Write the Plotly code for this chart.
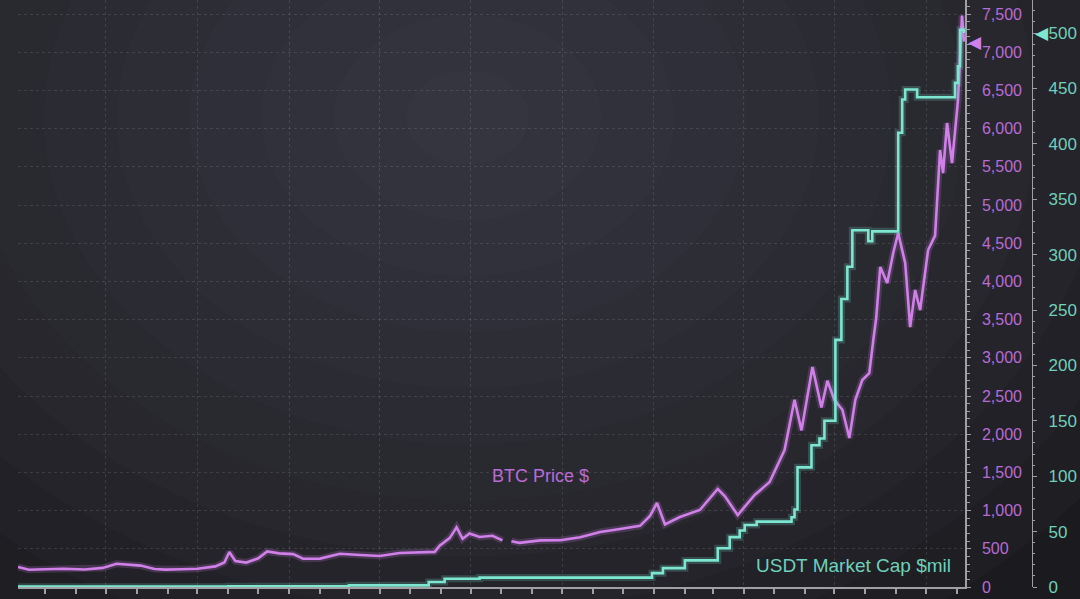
import plotly.graph_objects as go

# ---------------- data ----------------
btc_dates = [
    "2015-04-04", "2015-04-15", "2015-05-01", "2015-05-20", "2015-06-10", "2015-06-28",
    "2015-07-12", "2015-07-25", "2015-08-05", "2015-08-19", "2015-08-30", "2015-09-15",
    "2015-10-01", "2015-10-19", "2015-10-28", "2015-11-02", "2015-11-08", "2015-11-19",
    "2015-12-01", "2015-12-10", "2015-12-22", "2016-01-05", "2016-01-15", "2016-02-01",
    "2016-02-21", "2016-03-12", "2016-04-01", "2016-04-21", "2016-05-11", "2016-05-26",
    "2016-05-31", "2016-06-10", "2016-06-17", "2016-06-23", "2016-06-30", "2016-07-10",
    "2016-07-23", "2016-08-02", "2016-08-06", "2016-08-11", "2016-08-19", "2016-09-09",
    "2016-09-29", "2016-10-19", "2016-11-08", "2016-11-28", "2016-12-18", "2016-12-28",
    "2017-01-04", "2017-01-12", "2017-01-27", "2017-02-16", "2017-03-06", "2017-03-13",
    "2017-03-26", "2017-04-12", "2017-04-27", "2017-05-12", "2017-05-22", "2017-05-29",
    "2017-06-09", "2017-06-18", "2017-06-24", "2017-07-01", "2017-07-09", "2017-07-16",
    "2017-07-22", "2017-07-29", "2017-08-05", "2017-08-09", "2017-08-12", "2017-08-16",
    "2017-08-23", "2017-08-29", "2017-09-03", "2017-09-10", "2017-09-15", "2017-09-20",
    "2017-09-25", "2017-10-03", "2017-10-10", "2017-10-15", "2017-10-18", "2017-10-22",
    "2017-10-27", "2017-11-02", "2017-11-06", "2017-11-08",
]
btc_price = [
    262, 225, 232, 238, 230, 250,
    305, 290, 280, 235, 228, 232,
    238, 270, 320, 458, 340, 320,
    375, 465, 440, 430, 370, 372,
    435, 419, 405, 445, 455, 460,
    540, 640, 780, 630, 700, 655,
    670, 610, None, 600, 578, 610,
    612, 650, 720, 760, 800, 930,
    1100, 820, 916, 1008, 1283, 1190,
    942, 1204, 1374, 1793, 2450, 2050,
    2880, 2350, 2700, 2450, 2320, 1950,
    2450, 2710, 2800, 3230, 3530, 4189,
    3980, 4372, 4634, 4241, 3403, 3888,
    3626, 4411, 4600, 5720, 5419, 6074,
    5550, 6375, 7480, 7140,
]

usdt_dates = [
    "2015-04-04", "2015-11-01", "2016-03-01", "2016-05-20", "2016-06-05", "2016-07-10",
    "2016-12-30", "2017-01-10", "2017-02-01", "2017-03-06", "2017-03-18", "2017-03-28",
    "2017-04-02", "2017-04-14", "2017-05-19", "2017-05-22", "2017-05-25", "2017-06-08",
    "2017-06-16", "2017-06-21", "2017-07-02", "2017-07-08", "2017-07-14", "2017-07-19",
    "2017-08-04", "2017-08-08", "2017-09-03", "2017-09-07", "2017-09-10", "2017-09-22",
    "2017-10-30", "2017-11-02", "2017-11-04", "2017-11-08",
]
usdt_mcap = [
    0.3, 0.6, 1.5, 4.5, 7.5, 8.5,
    12.5, 17, 24, 35, 45, 51,
    56, 59, 63, 70, 108, 128,
    134, 150, 223, 260, 289, 322,
    312, 321, 410, 440, 449, 442,
    455, 470, 503, 500,
]

btc_ticks = list(range(0, 7501, 500))
usdt_ticks = list(range(0, 501, 50))

BTC_COLOR = "#d17fe9"
BTC_TEXT = "#b96bd6"
USDT_COLOR = "#7de6d1"
USDT_TEXT = "#6fd0bb"
AXIS_COLOR = "#a0a0a4"
GRID_COLOR = "rgba(255,255,255,0.11)"

fig = go.Figure()

# glow underlays
fig.add_trace(go.Scatter(x=usdt_dates, y=usdt_mcap, yaxis="y2", mode="lines",
                         line=dict(color=USDT_COLOR, width=7, shape="hv"),
                         opacity=0.2, hoverinfo="skip", showlegend=False))
fig.add_trace(go.Scatter(x=btc_dates, y=btc_price, mode="lines",
                         line=dict(color=BTC_COLOR, width=7),
                         opacity=0.2, hoverinfo="skip", showlegend=False,
                         connectgaps=False))
# main lines
fig.add_trace(go.Scatter(x=usdt_dates, y=usdt_mcap, yaxis="y2", mode="lines",
                         name="USDT Market Cap $mil",
                         line=dict(color=USDT_COLOR, width=2.6, shape="hv"),
                         showlegend=False))
fig.add_trace(go.Scatter(x=btc_dates, y=btc_price, mode="lines",
                         name="BTC Price $", connectgaps=False,
                         line=dict(color=BTC_COLOR, width=2.6),
                         showlegend=False))

# radial-ish background glow
shapes = []
n = 11
for i in range(n):
    f = (i + 1) / n
    rx = 0.78 * (1 - f) + 0.06
    ry = 1.05 * (1 - f) + 0.08
    cx, cy = 0.44, 0.80
    shapes.append(dict(type="circle", xref="paper", yref="paper",
                       x0=cx - rx, x1=cx + rx, y0=cy - ry, y1=cy + ry,
                       fillcolor="#5e6476", opacity=0.055, line=dict(width=0),
                       layer="below"))

fig.update_layout(
    width=1080, height=599,
    margin=dict(l=18, r=40, t=0, b=12),
    paper_bgcolor="#1b1b1f",
    plot_bgcolor="rgba(0,0,0,0)",
    font=dict(family="Liberation Sans, Arial, sans-serif"),
    shapes=shapes,
    showlegend=False,
    xaxis=dict(
        type="date",
        domain=[0, 0.9266],
        range=["2015-04-04", "2017-11-09"],
        showticklabels=False,
        dtick="M3", tick0="2015-01-01",
        ticks="outside", ticklen=5, tickcolor=AXIS_COLOR, tickwidth=1.5,
        minor=dict(dtick="M1", ticks="outside", ticklen=5, tickcolor=AXIS_COLOR,
                   tickwidth=1.5, showgrid=False),
        showgrid=True, gridcolor=GRID_COLOR, griddash="dot", gridwidth=1,
        showline=True, linecolor=AXIS_COLOR, linewidth=1.5,
        zeroline=False,
    ),
    yaxis=dict(
        side="right", anchor="x",
        range=[0, 7684],
        tickvals=btc_ticks,
        ticktext=[f"{v:,}" for v in btc_ticks],
        tickfont=dict(color=BTC_TEXT, size=16),
        ticks="outside", ticklen=4, tickcolor=AXIS_COLOR, tickwidth=1,
        minor=dict(dtick=100, ticks="outside", ticklen=3, tickcolor=AXIS_COLOR),
        ticklabelstandoff=8,
        showgrid=True, gridcolor=GRID_COLOR, griddash="dot", gridwidth=1,
        showline=True, linecolor=AXIS_COLOR, linewidth=1.5,
        zeroline=False,
    ),
    yaxis2=dict(
        overlaying="y", side="right", anchor="free", position=0.9922,
        range=[0, 529.8],
        tickvals=usdt_ticks,
        tickfont=dict(color=USDT_TEXT, size=17),
        ticks="outside", ticklen=4, tickcolor=AXIS_COLOR, tickwidth=1,
        minor=dict(dtick=10, ticks="outside", ticklen=2, tickcolor=AXIS_COLOR),
        ticklabelstandoff=8,
        showgrid=False,
        showline=True, linecolor=AXIS_COLOR, linewidth=1.2,
        zeroline=False,
    ),
    annotations=[
        dict(text="BTC Price $", xref="paper", yref="paper",
             x=(490 - 18) / 1022, y=1 - (476 / 587), xanchor="left", yanchor="middle",
             showarrow=False, font=dict(color=BTC_TEXT, size=18)),
        dict(text="USDT Market Cap $mil", xref="paper", yref="paper",
             x=(953 - 18) / 1022, y=1 - (565 / 587), xanchor="right", yanchor="middle",
             showarrow=False, font=dict(color=USDT_TEXT, size=19)),
        dict(text="◀", xref="paper", yref="y", x=(966 - 18) / 1022, y=btc_price[-1],
             xanchor="left", yanchor="middle", showarrow=False,
             font=dict(color=BTC_COLOR, size=17, family="DejaVu Sans")),
        dict(text="◀", xref="paper", yref="y2", x=(1033 - 18) / 1022, y=usdt_mcap[-1],
             xanchor="left", yanchor="middle", showarrow=False,
             font=dict(color=USDT_COLOR, size=17, family="DejaVu Sans")),
    ],
)

fig.write_html("out.html",
               config={"displayModeBar": False},
               post_script="document.body.style.margin='0';document.body.style.overflow='hidden';")
